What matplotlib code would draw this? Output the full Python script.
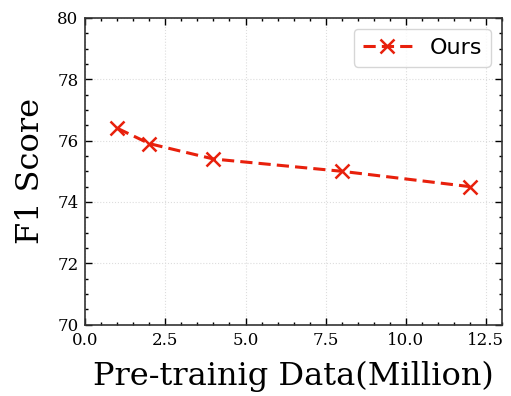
import matplotlib.pyplot as plt
from matplotlib.ticker import AutoMinorLocator

data_million = [1, 2, 4, 8, 12]
f1_scores = [76.4, 75.9, 75.4, 75.0, 74.5]
series_label = "Ours"

fig, ax = plt.subplots(figsize=(5.11, 3.96), dpi=100)
ax.plot(data_million, f1_scores, linestyle=(0, (4, 2)), marker="x", color="#e8200c",
        linewidth=2.2, markersize=10, markeredgewidth=1.8, label=series_label)

ax.set_xlim(0, 13)
ax.set_ylim(70, 80)
ax.set_xticks([0, 2.5, 5, 7.5, 10, 12.5])
ax.set_yticks([70, 72, 74, 76, 78, 80])
ax.xaxis.set_minor_locator(AutoMinorLocator(5))
ax.yaxis.set_minor_locator(AutoMinorLocator(4))
ax.tick_params(which="both", direction="in", top=True, right=True)
ax.tick_params(which="major", length=5, width=1, labelsize=12, pad=5)
ax.tick_params(which="minor", length=2.5, width=1)
for lab in ax.get_xticklabels() + ax.get_yticklabels():
    lab.set_family("DejaVu Serif")
for sp in ax.spines.values():
    sp.set_linewidth(1.2)
    sp.set_color("#333333")

ax.grid(True, linestyle=":", color="#dddddd", linewidth=0.8)
ax.set_xlabel("Pre-trainig Data(Million)", fontsize=23, family="DejaVu Serif", labelpad=9)
ax.set_ylabel("F1 Score", fontsize=23, family="DejaVu Serif", labelpad=8)
ax.legend(loc="upper right", fontsize=16, handlelength=2.2, fancybox=True, edgecolor="#cccccc")

fig.subplots_adjust(left=0.167, right=0.982, top=0.955, bottom=0.18)
fig.savefig("out.png", dpi=100)
